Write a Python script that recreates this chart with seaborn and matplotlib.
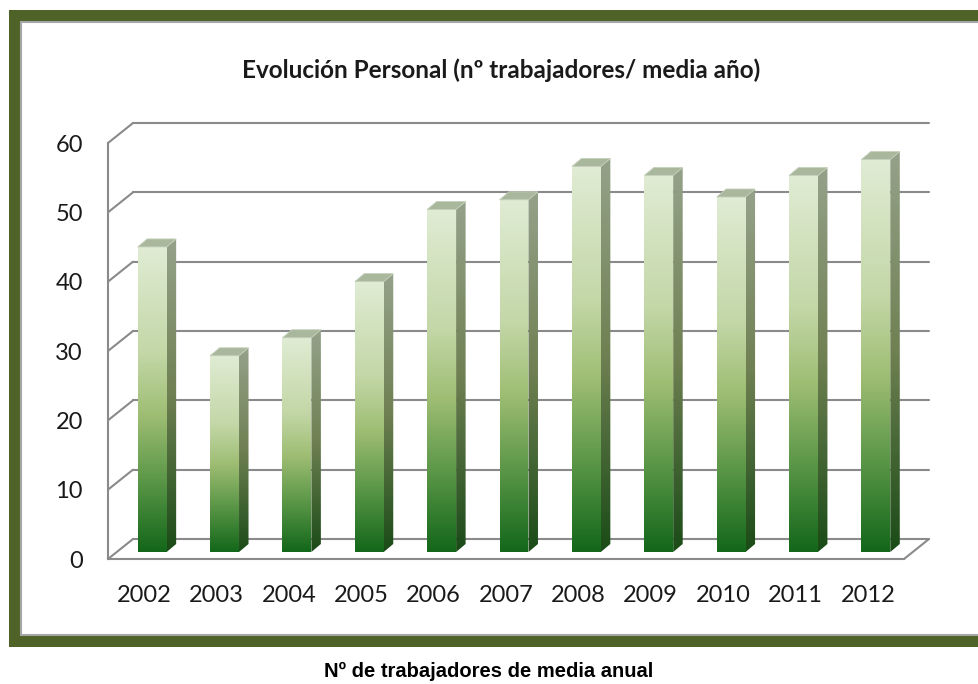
import numpy as np
import matplotlib
matplotlib.use("Agg")
import matplotlib.pyplot as plt
import seaborn as sns
from matplotlib.patches import Polygon, Rectangle
from matplotlib.colors import LinearSegmentedColormap

# Datos
years = ["2002", "2003", "2004", "2005", "2006", "2007",
         "2008", "2009", "2010", "2011", "2012"]
trabajadores = [44.0, 28.3, 30.9, 39.0, 49.4, 50.8, 55.6, 54.3, 51.2, 54.3, 56.6]
y_ticks = [0, 10, 20, 30, 40, 50, 60]

titulo = "Evolución Personal (nº trabajadores/ media año)"
pie = "Nº de trabajadores de media anual"

W, H = 979, 684
OLIVA = "#4f6228"
GRIS = "#8a8a8a"

sns.set_style("white")
plt.rcParams['font.family'] = ['Lato', 'DejaVu Sans']

front_cmap = LinearSegmentedColormap.from_list(
    "frente", [(0.0, "#e0ecd4"), (0.35, "#c3d7a7"), (0.55, "#9fbe74"),
               (0.78, "#579445"), (1.0, "#13671a")])
side_cmap = LinearSegmentedColormap.from_list(
    "lado", [(0.0, "#95a28a"), (0.5, "#6f8052"), (1.0, "#1a4b17")])


def px_box(x0, y0, x1, y1):
    """caja en pixeles (origen arriba-izq) -> [l, b, w, h] en fraccion de figura"""
    return [x0 / W, 1 - y1 / H, (x1 - x0) / W, (y1 - y0) / H]


fig = plt.figure(figsize=(W / 100, H / 100), dpi=100)

# marco verde oliva
fig.add_artist(Rectangle((9 / W, 1 - 647 / H), 1.0, (647 - 10) / H,
                         transform=fig.transFigure, facecolor=OLIVA,
                         edgecolor="none", zorder=-3))
fig.add_artist(Rectangle((21 / W, 1 - 635 / H), 1.0, (635 - 22) / H,
                         transform=fig.transFigure, facecolor="white",
                         edgecolor="#a6a6a6", lw=1.5, zorder=-2))

ax = fig.add_axes(px_box(108, 143, 904, 559))
ax.patch.set_visible(False)

sns.barplot(x=years, y=trabajadores, width=0.4, color="#9bbb59", ax=ax)
ax.set_xlim(-0.5, 10.5)
ax.set_ylim(0, 60)

# conversion pixeles -> unidades de datos para el efecto 3D
sx = ax.bbox.width / 11
sy = ax.bbox.height / 60
fdx, fdy = 8 / sx, 7 / sy        # cara frontal de la barra
bdx, bdy = 17.5 / sx, 15 / sy    # cara trasera de la barra
wdx, wdy = 25 / sx, 20 / sy      # pared del fondo

# paredes y lineas de division
for v in y_ticks:
    ax.plot([-0.5, -0.5 + wdx], [v, v + wdy], color=GRIS, lw=1.5,
            clip_on=False, zorder=0)
    ax.plot([-0.5 + wdx, 10.5 + wdx], [v + wdy, v + wdy], color=GRIS, lw=1.5,
            clip_on=False, zorder=0)
ax.plot([10.5, 10.5 + wdx], [0, wdy], color=GRIS, lw=1.5, clip_on=False, zorder=0)

grad = np.linspace(0, 1, 256).reshape(-1, 1)
for p in list(ax.patches):
    x0 = p.get_x()
    x1 = x0 + p.get_width()
    h = p.get_height()
    p.set_visible(False)

    front = Polygon([(x0 + fdx, fdy), (x1 + fdx, fdy), (x1 + fdx, h + fdy),
                     (x0 + fdx, h + fdy)], closed=True, facecolor="none",
                    edgecolor="none", zorder=3)
    side = Polygon([(x1 + fdx, fdy), (x1 + bdx, bdy), (x1 + bdx, h + bdy),
                    (x1 + fdx, h + fdy)], closed=True, facecolor="none",
                   edgecolor="none", zorder=3)
    top = Polygon([(x0 + fdx, h + fdy), (x1 + fdx, h + fdy), (x1 + bdx, h + bdy),
                   (x0 + bdx, h + bdy)], closed=True, facecolor="#a9b89c",
                  edgecolor="#c4cfba", lw=0.6, zorder=4)
    ax.add_patch(front)
    ax.add_patch(side)
    ax.add_patch(top)

    im = ax.imshow(grad, cmap=front_cmap, aspect="auto", origin="upper",
                   extent=(x0 + fdx, x1 + fdx, fdy, h + fdy), zorder=3)
    im.set_clip_path(front)
    im2 = ax.imshow(grad, cmap=side_cmap, aspect="auto", origin="upper",
                    extent=(x1 + fdx, x1 + bdx, fdy, h + bdy), zorder=3)
    im2.set_clip_path(side)

ax.set_xlim(-0.5, 10.5)
ax.set_ylim(0, 60)

# ejes
for s in ["top", "right"]:
    ax.spines[s].set_visible(False)
for s in ["left", "bottom"]:
    ax.spines[s].set_color(GRIS)
    ax.spines[s].set_linewidth(1.5)

ax.set_yticks(y_ticks)
ax.set_yticklabels([str(v) for v in y_ticks])
ax.set_xticks(np.arange(-0.5, 11, 1))
ax.set_xticklabels([])
ax.set_xticks(np.arange(11), minor=True)
ax.set_xticklabels(years, minor=True)
ax.tick_params(axis="both", which="major", direction="out", length=8,
               width=1.5, color=GRIS)
ax.tick_params(axis="y", labelsize=17, pad=10, labelcolor="#1a1a1a")
ax.tick_params(axis="x", which="minor", length=0, labelsize=17, pad=19,
               labelcolor="#1a1a1a")
ax.set_xlabel("")
ax.set_ylabel("")

fig.text(501 / W, 1 - 70 / H, titulo, ha="center", va="center",
         fontsize=17.5, fontweight="bold", color="#1a1a1a")
fig.text(489 / W, 1 - 671 / H, pie, ha="center", va="center",
         fontsize=14.5, fontweight="bold", family="Liberation Sans", color="black")

fig.savefig("out.png", dpi=100)
